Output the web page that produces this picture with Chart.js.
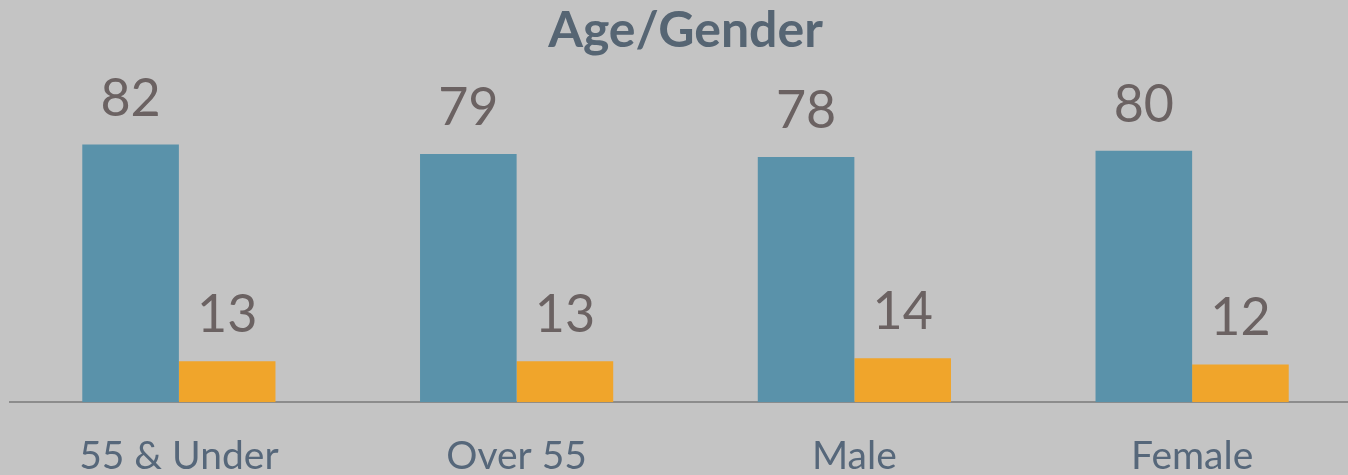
<!DOCTYPE html>
<html>
<head>
<meta charset="utf-8">
<script src="https://cdn.jsdelivr.net/npm/chart.js@4/dist/chart.umd.min.js"></script>
<style>
  html, body { margin: 0; padding: 0; overflow: hidden; background: #c4c4c4; }
  #wrap { position: relative; width: 1362px; height: 511px; }
</style>
</head>
<body>
<div id="wrap"><canvas id="ageGenderChart"></canvas></div>
<script>
/* ================= DATA ================= */
const categories = ["55 & Under", "Over 55", "Male", "Female"];
const seriesA = [82, 79, 78, 80];
const seriesB = [13, 13, 14, 12];

/* ================= VALUE LABELS ================= */
const valueLabels = {
  id: "valueLabels",
  afterDatasetsDraw(chart) {
    const ctx = chart.ctx;
    ctx.save();
    ctx.font = "52px Lato";
    ctx.fillStyle = "#6b6262";
    ctx.textAlign = "center";
    ctx.textBaseline = "alphabetic";
    chart.data.datasets.forEach((ds, i) => {
      chart.getDatasetMeta(i).data.forEach((bar, j) => {
        ctx.fillText(String(ds.data[j]), bar.x, bar.y - 29);
      });
    });
    ctx.restore();
  }
};

/* ================= CHART ================= */
new Chart(document.getElementById("ageGenderChart"), {
  type: "bar",
  data: {
    labels: categories,
    datasets: [
      { label: "Series 1", data: seriesA, backgroundColor: "#5a92aa" },
      { label: "Series 2", data: seriesB, backgroundColor: "#f0a52b" }
    ]
  },
  options: {
    responsive: true,
    maintainAspectRatio: false,
    animation: false,
    barPercentage: 1,
    categoryPercentage: 0.572,
    layout: { padding: { left: 10, right: 1, top: 0, bottom: 0 } },
    plugins: {
      legend: { display: false },
      tooltip: { enabled: false },
      title: {
        display: true,
        text: "Age/Gender",
        color: "#566573",
        font: { family: "Lato", size: 50, weight: "bold", lineHeight: 1.2 },
        padding: { top: 1, bottom: 27 }
      }
    },
    scales: {
      x: {
        grid: { display: false, drawTicks: false },
        border: { display: true, color: "#8c8c8c", width: 2 },
        ticks: {
          color: "#56677a",
          padding: 31,
          font: { family: "Lato", size: 39 }
        }
      },
      y: {
        display: false,
        min: 0,
        max: 100
      }
    }
  },
  plugins: [valueLabels]
});
</script>
</body>
</html>
